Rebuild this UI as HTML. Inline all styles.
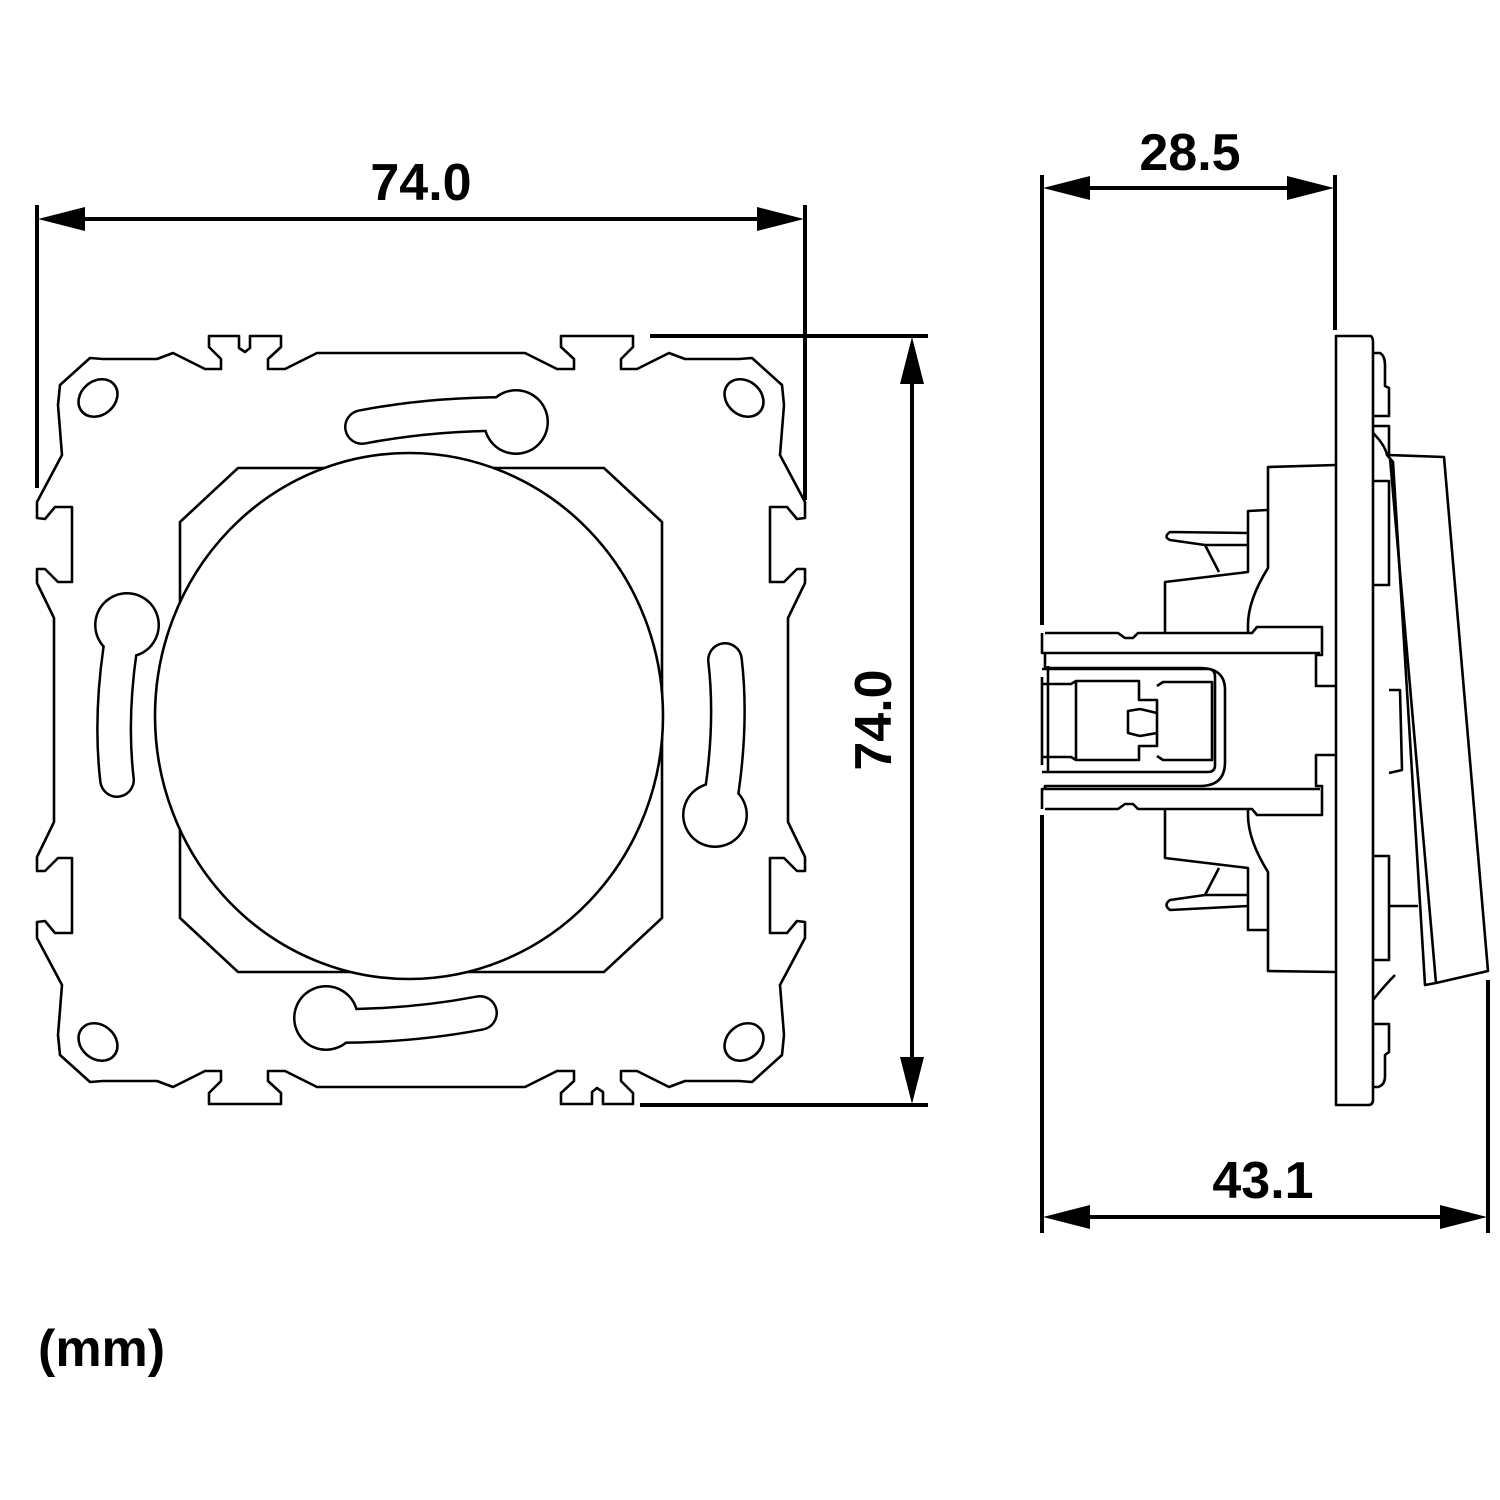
<!DOCTYPE html>
<html><head><meta charset="utf-8"><style>
html,body{margin:0;padding:0;background:#fff}
svg{display:block}
text{font-family:"Liberation Sans",Arial,sans-serif;font-weight:bold;fill:#000}
</style></head><body>
<svg width="1500" height="1500" viewBox="0 0 1500 1500" xmlns="http://www.w3.org/2000/svg">
<rect width="1500" height="1500" fill="#fff"/>
<defs>
<g id="tl">
<polyline fill="none" stroke="#000" stroke-width="2.6" stroke-linejoin="round" points="421,353 317,353 285,369 268,369 268,359 281,347 281,336 250,336 250,348 245,352 239,348 239,336 209,336 209,347 221,359 221,369 205,369 173,353 157,359 103,359 90,358 60,385 58,405 62,455 37,502 37,518 45,519 55,507 72,507 72,582 58,582 45,569 37,569 37,583 54,618 54,720"/>
</g>
<g id="tlnn">
<polyline fill="none" stroke="#000" stroke-width="2.6" stroke-linejoin="round" points="421,353 317,353 285,369 268,369 268,359 281,347 281,336 209,336 209,347 221,359 221,369 205,369 173,353 157,359 103,359 90,358 60,385 58,405 62,455 37,502 37,518 45,519 55,507 72,507 72,582 58,582 45,569 37,569 37,583 54,618 54,720"/>
</g>
<g id="tophalf">
<use href="#tl"/>
<use href="#tlnn" transform="matrix(-1 0 0 1 842 0)"/>
<ellipse cx="98" cy="398" rx="21" ry="17" transform="rotate(-40 98 398)" fill="none" stroke="#000" stroke-width="2.6"/>
<ellipse cx="744" cy="398" rx="21" ry="17" transform="rotate(40 744 398)" fill="none" stroke="#000" stroke-width="2.6"/>
<g>
<path d="M362,427 Q430,414 505,414" fill="none" stroke="#000" stroke-width="36" stroke-linecap="round"/>
<circle cx="516" cy="422" r="33" fill="#000"/>
<path d="M362,427 Q430,414 505,414" fill="none" stroke="#fff" stroke-width="31" stroke-linecap="round"/>
<circle cx="516" cy="422" r="30.5" fill="#fff"/>
</g>
<g>
<path d="M120,650 Q110,720 117,780" fill="none" stroke="#000" stroke-width="36" stroke-linecap="round"/>
<circle cx="127" cy="625" r="33" fill="#000"/>
<path d="M120,650 Q110,720 117,780" fill="none" stroke="#fff" stroke-width="31" stroke-linecap="round"/>
<circle cx="127" cy="625" r="30.5" fill="#fff"/>
</g>
</g>
</defs>

<use href="#tophalf"/>
<use href="#tophalf" transform="rotate(180 421 720)"/>
<polygon points="238,468 604,468 662,522 662,918 604,972 238,972 180,918 180,522" fill="none" stroke="#000" stroke-width="2.6"/>
<ellipse cx="409" cy="716" rx="254" ry="263" fill="#fff" stroke="#000" stroke-width="2.6"/>

<line x1="37" y1="205" x2="37" y2="488" stroke="#000" stroke-width="4"/>
<line x1="805" y1="205" x2="805" y2="500" stroke="#000" stroke-width="4"/>
<line x1="60" y1="219" x2="782" y2="219" stroke="#000" stroke-width="4"/>
<polygon points="38,219 85,207 85,231" fill="#000"/>
<polygon points="804,219 757,207 757,231" fill="#000"/>
<text x="421" y="200" font-size="52" text-anchor="middle">74.0</text>

<line x1="650" y1="336" x2="928" y2="336" stroke="#000" stroke-width="4"/>
<line x1="640" y1="1105" x2="928" y2="1105" stroke="#000" stroke-width="4"/>
<line x1="912" y1="360" x2="912" y2="1082" stroke="#000" stroke-width="4"/>
<polygon points="912,337 900,384 924,384" fill="#000"/>
<polygon points="912,1104 900,1057 924,1057" fill="#000"/>
<text x="0" y="0" font-size="52" text-anchor="middle" transform="translate(891,720) rotate(-90)">74.0</text>

<g fill="none" stroke="#000" stroke-width="2.6" stroke-linejoin="round">
<path d="M1336,336 L1371,336 Q1373,338 1373,342 L1373,1100 Q1373,1105 1368,1105 L1336,1105 Z"/>
<path d="M1373,353 L1380,353 Q1385,356 1385,365 L1385,386 L1389,388 L1389,416 L1373,416"/>
<path d="M1373,426 L1389,426 L1389,456"/>
<path d="M1373,481 L1389,481 L1389,585 L1373,585"/>
<path d="M1389,690 L1400,690 L1402,770 L1389,773"/>
<path d="M1373,856 L1389,856 L1389,960 L1373,960"/>
<path d="M1373,1024 L1389,1024 L1389,1052 L1385,1055 L1385,1076 Q1385,1085 1378,1087 L1373,1087"/>
<path d="M1387,455 L1444,457 L1488,971 L1436,983 L1425,985 L1393,462 Z"/>
<line x1="1390" y1="458" x2="1436" y2="983"/>
<path d="M1373,433 Q1385,445 1387,455"/>
<path d="M1373,1000 Q1385,985 1395,975"/>
<line x1="1389" y1="906" x2="1418" y2="906"/>
<path d="M1336,465 L1268,467 L1268,568 Q1248,600 1248,625 L1248,632"/>
<path d="M1268,510 L1248,511 L1248,572 L1165,582 L1165,632"/>
<path d="M1248,533 L1170,532 Q1163,537 1170,540 L1205,545 L1219,572"/>
<path d="M1248,545 L1205,545"/>
<path d="M1336,972 L1268,971 L1268,872 Q1248,840 1248,815 L1248,810"/>
<path d="M1268,930 L1248,930 L1248,868 L1165,858 L1165,810"/>
<path d="M1248,906 L1170,910 Q1163,905 1170,900 L1205,895 L1219,868"/>
<path d="M1248,895 L1205,895"/>
<path d="M1045,633 L1118,633 L1125,638 L1133,638 L1138,633 L1252,633 L1257,627 L1322,627 L1322,655 L1316,655 L1316,686 L1336,686"/>
<path d="M1045,809 L1118,809 L1125,804 L1133,804 L1138,809 L1252,809 L1257,815 L1322,815 L1322,786 L1316,786 L1316,755 L1336,755"/>
<path d="M1042,633 L1042,653 L1320,653"/>
<path d="M1042,809 L1042,789 L1320,789"/>
<path d="M1045,653 L1045,668 L1200,668 Q1225,668 1225,690 L1225,762 Q1225,786 1200,786 L1045,786 L1045,789"/>
<path d="M1042,669 L1208,669 Q1215,669 1215,677 L1215,765 Q1215,772 1208,772 L1042,772"/>
<path d="M1042,677 L1042,765"/>
<path d="M1042,684 L1071,684 L1076,681 L1139,681 L1139,700 L1157,700 L1157,746 L1139,746 L1139,760 L1076,760 L1071,757 L1042,757"/>
<path d="M1076,681 L1076,760"/>
<path d="M1157,686 L1163,682 L1212,682 L1212,760 L1163,760 L1157,756"/>
<path d="M1157,713 L1140,709 L1128,711 L1128,733 L1140,736 L1157,733"/>
<line x1="1048" y1="666" x2="1048" y2="772"/>
</g>

<line x1="1042" y1="175" x2="1042" y2="625" stroke="#000" stroke-width="4"/>
<line x1="1335" y1="175" x2="1335" y2="330" stroke="#000" stroke-width="4"/>
<line x1="1065" y1="188" x2="1312" y2="188" stroke="#000" stroke-width="4"/>
<polygon points="1043,188 1090,176 1090,200" fill="#000"/>
<polygon points="1334,188 1287,176 1287,200" fill="#000"/>
<text x="1190" y="170" font-size="52" text-anchor="middle">28.5</text>

<line x1="1042" y1="815" x2="1042" y2="1233" stroke="#000" stroke-width="4"/>
<line x1="1488" y1="980" x2="1488" y2="1233" stroke="#000" stroke-width="4"/>
<line x1="1065" y1="1217" x2="1465" y2="1217" stroke="#000" stroke-width="4"/>
<polygon points="1043,1217 1090,1205 1090,1229" fill="#000"/>
<polygon points="1487,1217 1440,1205 1440,1229" fill="#000"/>
<text x="1263" y="1198" font-size="52" text-anchor="middle">43.1</text>

<text x="38" y="1366" font-size="52">(mm)</text>
</svg>
</body></html>
